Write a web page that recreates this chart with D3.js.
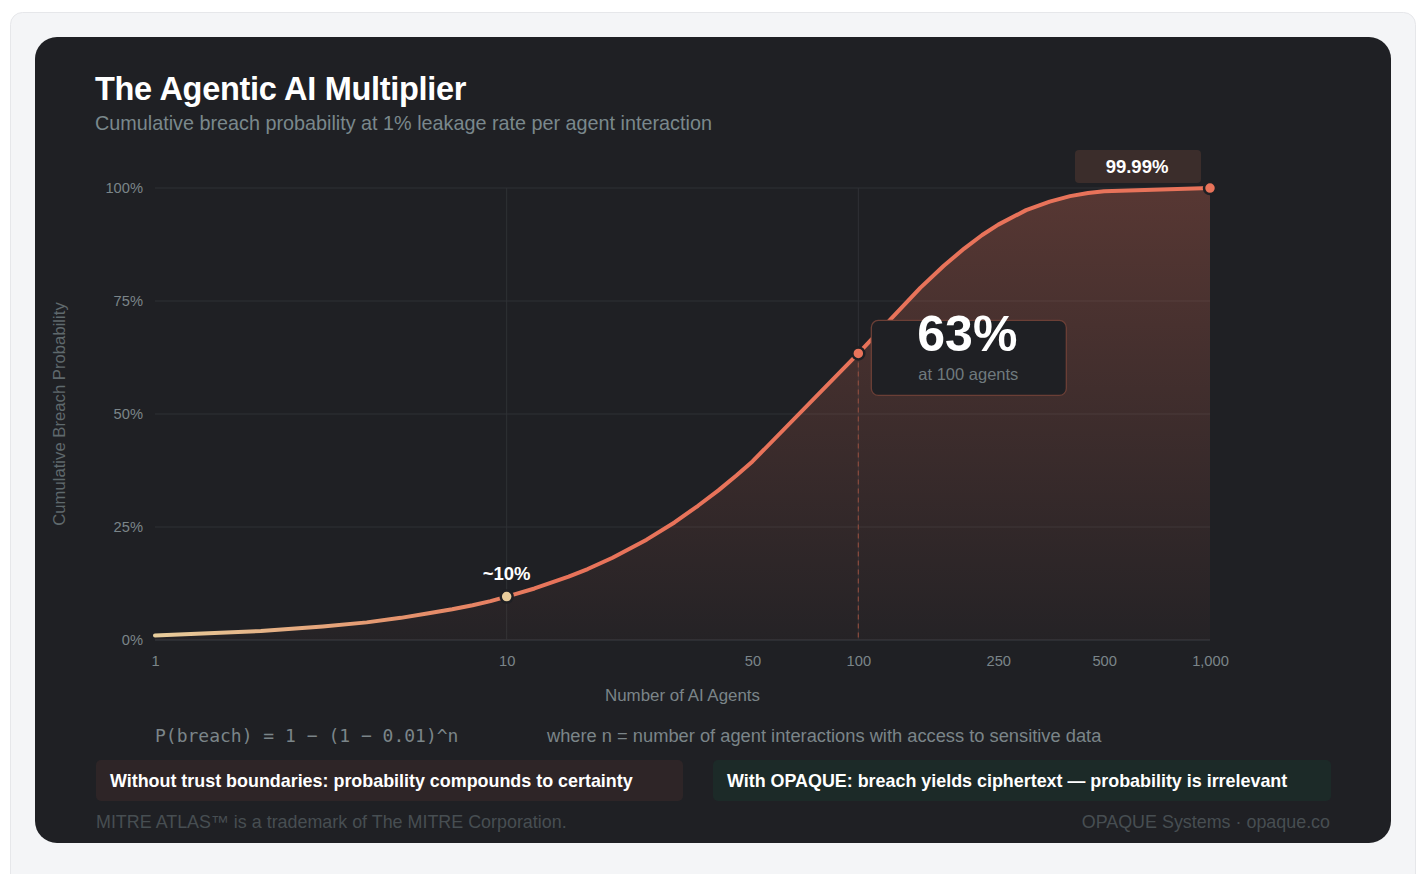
<!DOCTYPE html>
<html>
<head>
<meta charset="utf-8">
<script src="https://cdn.jsdelivr.net/npm/d3@7"></script>
<style>
  body { margin: 0; background: #ffffff; }
  svg { display: block; font-family: "Liberation Sans", Arial, sans-serif; }
</style>
</head>
<body>
<svg id="drawing_region"></svg>
<script>
// agents (n) and cumulative breach probability (%)
const agents = [1, 2, 3, 4, 5, 6, 7, 8, 9, 10, 12, 15, 17, 20, 25, 30, 35, 40, 45, 50, 100,
    150, 175, 200, 225, 250, 300, 350, 400, 450, 500, 1000];
const breachPct = [1.0, 2.0, 3.0, 3.9, 4.9, 5.9, 6.8, 7.7, 8.6, 9.6, 11.4, 14.0, 15.7, 18.2, 22.2, 26.0, 29.7, 33.1, 36.4, 39.5, 63.4,
    77.9, 82.8, 86.6, 89.6, 91.9, 95.1, 97.0, 98.2, 98.9, 99.3, 99.99];
const xTicks = [1, 10, 50, 100, 250, 500, 1000];
const yTicks = [0, 25, 50, 75, 100];
const highlights = [
    { n: 10, p: 9.6, label: "~10%", color: "#e8cd9c" },
    { n: 100, p: 63.4, label: "63%", color: "#e8735a" },
    { n: 1000, p: 99.99, label: "99.99%", color: "#e8735a" }
];

const data = agents.map((n, i) => ({ n: n, p: breachPct[i] }));

const config = {
    width: 1420,
    height: 874,
    margin: { top: 188, right: 210, bottom: 234, left: 155 }
};

const svg = d3.select('#drawing_region')
    .attr('width', config.width)
    .attr('height', config.height);

const defs = svg.append('defs');

// page frame + dark card
svg.append('rect')
    .attr('x', 10.5).attr('y', 12.5)
    .attr('width', 1405).attr('height', 880)
    .attr('rx', 12)
    .attr('fill', '#f4f5f7')
    .attr('stroke', '#e6e7ea');

svg.append('rect')
    .attr('x', 35).attr('y', 37)
    .attr('width', 1356).attr('height', 806)
    .attr('rx', 22)
    .attr('fill', '#1f2024');

// title
svg.append('text')
    .attr('x', 95).attr('y', 100)
    .attr('fill', '#ffffff')
    .attr('font-size', '32.5px')
    .attr('font-weight', 'bold')
    .attr('letter-spacing', '-0.3')
    .text('The Agentic AI Multiplier');

svg.append('text')
    .attr('x', 95).attr('y', 130)
    .attr('fill', '#7a888c')
    .attr('font-size', '19.8px')
    .text('Cumulative breach probability at 1% leakage rate per agent interaction');

const inner_width = config.width - config.margin.left - config.margin.right;
const inner_height = config.height - config.margin.top - config.margin.bottom;

const chart = svg.append('g')
    .attr('transform', `translate(${config.margin.left}, ${config.margin.top})`);

const xscale = d3.scaleLog()
    .domain([1, 1000])
    .range([0, inner_width]);

const yscale = d3.scaleLinear()
    .domain([0, 100])
    .range([inner_height, 0]);

// gradients
const lineGrad = defs.append('linearGradient')
    .attr('id', 'lineGrad')
    .attr('gradientUnits', 'userSpaceOnUse')
    .attr('x1', 0).attr('x2', inner_width)
    .attr('y1', 0).attr('y2', 0);
lineGrad.append('stop').attr('offset', '0%').attr('stop-color', '#e8cd9c');
lineGrad.append('stop').attr('offset', '22%').attr('stop-color', '#e4966f');
lineGrad.append('stop').attr('offset', '38%').attr('stop-color', '#e8735a');
lineGrad.append('stop').attr('offset', '100%').attr('stop-color', '#e8735a');

const areaGrad = defs.append('linearGradient')
    .attr('id', 'areaGrad')
    .attr('gradientUnits', 'userSpaceOnUse')
    .attr('x1', 0).attr('x2', 0)
    .attr('y1', 0).attr('y2', inner_height);
areaGrad.append('stop').attr('offset', '0%').attr('stop-color', '#e8735a').attr('stop-opacity', 0.28);
areaGrad.append('stop').attr('offset', '100%').attr('stop-color', '#e8735a').attr('stop-opacity', 0.03);

// grid
chart.selectAll('.hgrid')
    .data(yTicks)
    .enter()
    .append('line')
    .attr('x1', 0).attr('x2', inner_width)
    .attr('y1', d => yscale(d)).attr('y2', d => yscale(d))
    .attr('stroke', d => d === 0 ? '#3b3d42' : '#2f3135')
    .attr('stroke-width', 1);

chart.selectAll('.vgrid')
    .data([10, 100])
    .enter()
    .append('line')
    .attr('x1', d => xscale(d)).attr('x2', d => xscale(d))
    .attr('y1', 0).attr('y2', inner_height)
    .attr('stroke', '#2f3135')
    .attr('stroke-width', 1);

// area + line
const area = d3.area()
    .x(d => xscale(d.n))
    .y0(inner_height)
    .y1(d => yscale(d.p));

chart.append('path')
    .datum(data)
    .attr('d', area)
    .attr('fill', 'url(#areaGrad)');

const line = d3.line()
    .x(d => xscale(d.n))
    .y(d => yscale(d.p));

// dashed drop line at 100 agents
chart.append('line')
    .attr('x1', xscale(100)).attr('x2', xscale(100))
    .attr('y1', yscale(63.4)).attr('y2', inner_height)
    .attr('stroke', '#8a4a3e')
    .attr('stroke-width', 1.2)
    .attr('stroke-dasharray', '5,4');

chart.append('path')
    .datum(data)
    .attr('d', line)
    .attr('fill', 'none')
    .attr('stroke', 'url(#lineGrad)')
    .attr('stroke-width', 4)
    .attr('stroke-linecap', 'round')
    .attr('stroke-linejoin', 'round');

// axes
const xaxis = d3.axisBottom(xscale)
    .tickValues(xTicks)
    .tickFormat(d3.format(','))
    .tickSize(0)
    .tickPadding(16);

const xaxis_group = chart.append('g')
    .attr('transform', `translate(0, ${inner_height})`)
    .call(xaxis);

const yaxis = d3.axisLeft(yscale)
    .tickValues(yTicks)
    .tickFormat(d => d + '%')
    .tickSize(0)
    .tickPadding(12);

const yaxis_group = chart.append('g')
    .call(yaxis);

[xaxis_group, yaxis_group].forEach(g => {
    g.select('.domain').remove();
    g.selectAll('text')
        .attr('fill', '#7b8589')
        .attr('font-size', '14.7px')
        .attr('font-family', '"Liberation Sans", Arial, sans-serif');
});

chart.append('text')
    .attr('x', inner_width / 2)
    .attr('y', inner_height + 61)
    .attr('text-anchor', 'middle')
    .attr('fill', '#7b8589')
    .attr('font-size', '16.9px')
    .text('Number of AI Agents');

chart.append('text')
    .attr('transform', 'rotate(-90)')
    .attr('x', -inner_height / 2)
    .attr('y', -90)
    .attr('text-anchor', 'middle')
    .attr('fill', '#5f696d')
    .attr('font-size', '16.7px')
    .text('Cumulative Breach Probability');

// highlight points
chart.selectAll('.hl')
    .data(highlights)
    .enter()
    .append('circle')
    .attr('cx', d => xscale(d.n))
    .attr('cy', d => yscale(d.p))
    .attr('r', 6)
    .attr('fill', d => d.color)
    .attr('stroke', '#1f2024')
    .attr('stroke-width', 2.5);

// ~10% label
const h10 = highlights[0];
chart.append('text')
    .attr('x', xscale(h10.n))
    .attr('y', yscale(h10.p) - 17)
    .attr('text-anchor', 'middle')
    .attr('fill', '#ffffff')
    .attr('font-size', '18.5px')
    .attr('font-weight', 'bold')
    .text(h10.label);

// 63% callout
const h100 = highlights[1];
const cx100 = xscale(h100.n), cy100 = yscale(h100.p);
chart.append('rect')
    .attr('x', cx100 + 13).attr('y', cy100 - 33)
    .attr('width', 195).attr('height', 75)
    .attr('rx', 7)
    .attr('fill', '#1f2024')
    .attr('stroke', '#6b3f36')
    .attr('stroke-width', 1.3);
chart.append('text')
    .attr('x', cx100 + 109).attr('y', cy100 - 2)
    .attr('text-anchor', 'middle')
    .attr('fill', '#ffffff')
    .attr('font-size', '50px')
    .attr('font-weight', 'bold')
    .text(h100.label);
chart.append('text')
    .attr('x', cx100 + 110).attr('y', cy100 + 27)
    .attr('text-anchor', 'middle')
    .attr('fill', '#6f7a7e')
    .attr('font-size', '16.5px')
    .text('at 100 agents');

// 99.99% tag
const h1000 = highlights[2];
const cx1k = xscale(h1000.n), cy1k = yscale(h1000.p);
chart.append('rect')
    .attr('x', cx1k - 135).attr('y', cy1k - 38)
    .attr('width', 126).attr('height', 33)
    .attr('rx', 4)
    .attr('fill', '#3b2d2b');
chart.append('text')
    .attr('x', cx1k - 73).attr('y', cy1k - 15)
    .attr('text-anchor', 'middle')
    .attr('fill', '#ffffff')
    .attr('font-size', '18.5px')
    .attr('font-weight', 'bold')
    .text(h1000.label);

// formula row
svg.append('text')
    .attr('x', 155).attr('y', 742)
    .attr('fill', '#7b8589')
    .attr('font-size', '18px')
    .attr('font-family', '"DejaVu Sans Mono", monospace')
    .text('P(breach) = 1 − (1 − 0.01)^n');

svg.append('text')
    .attr('x', 547).attr('y', 742)
    .attr('fill', '#7b8589')
    .attr('font-size', '18.3px')
    .text('where n = number of agent interactions with access to sensitive data');

// comparison boxes
const boxes = [
    { x: 96, w: 587, fill: '#2e2527', text: 'Without trust boundaries: probability compounds to certainty' },
    { x: 713, w: 618, fill: '#1c2a28', text: 'With OPAQUE: breach yields ciphertext — probability is irrelevant' }
];
boxes.forEach(b => {
    svg.append('rect')
        .attr('x', b.x).attr('y', 760)
        .attr('width', b.w).attr('height', 41)
        .attr('rx', 5)
        .attr('fill', b.fill);
    svg.append('text')
        .attr('x', b.x + 14).attr('y', 787)
        .attr('fill', '#ffffff')
        .attr('font-size', '17.9px')
        .attr('font-weight', 'bold')
        .text(b.text);
});

// footer
svg.append('text')
    .attr('x', 96).attr('y', 828)
    .attr('fill', '#474e52')
    .attr('font-size', '17.9px')
    .text('MITRE ATLAS™ is a trademark of The MITRE Corporation.');

svg.append('text')
    .attr('x', 1330).attr('y', 828)
    .attr('text-anchor', 'end')
    .attr('fill', '#474e52')
    .attr('font-size', '17.9px')
    .text('OPAQUE Systems · opaque.co');
</script>
</body>
</html>
